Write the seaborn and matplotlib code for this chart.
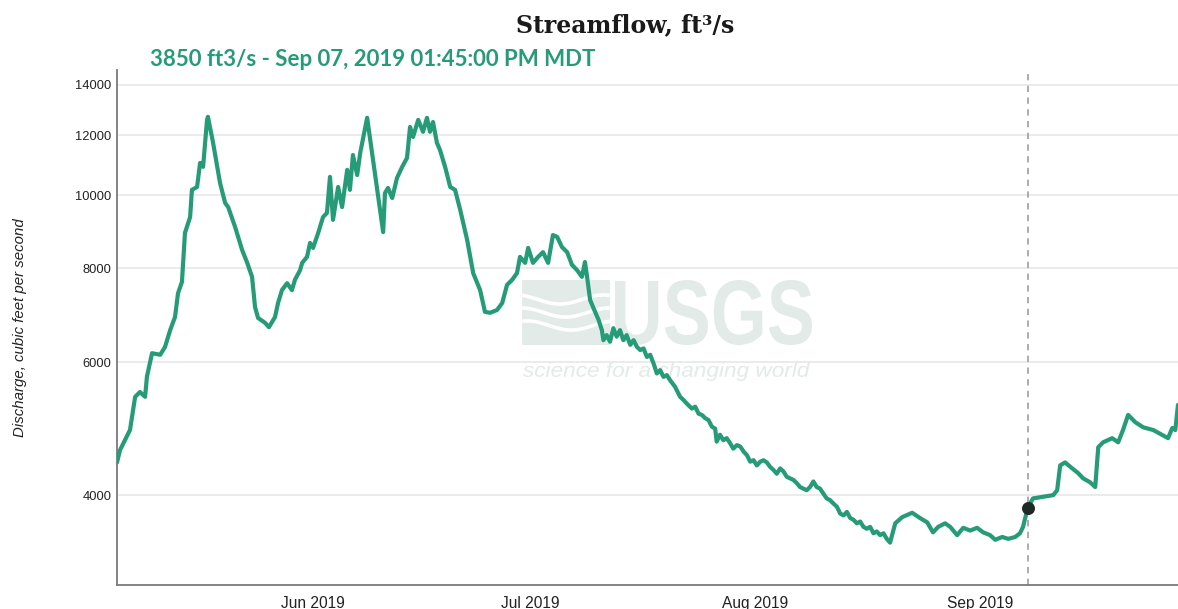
import matplotlib
matplotlib.use("Agg")
import matplotlib.pyplot as plt
from matplotlib.ticker import FixedLocator, FuncFormatter, NullLocator
from matplotlib.textpath import TextPath
from matplotlib.font_manager import FontProperties
from matplotlib.patches import PathPatch, Rectangle
from matplotlib.transforms import Affine2D
import numpy as np
import pandas as pd
import seaborn as sns

# Instantaneous discharge readings, 2019 (MDT), ft3/s
timestamps = [
    "05-04 23:00", "05-05 09:00", "05-06 18:00", "05-07 11:00", "05-08 03:00", "05-08 20:00",
    "05-09 02:00", "05-09 19:00", "05-10 22:00", "05-11 14:00", "05-12 07:00", "05-12 23:00",
    "05-13 09:00", "05-13 22:00", "05-14 08:00", "05-15 01:00", "05-15 07:00", "05-16 00:00",
    "05-16 10:00", "05-16 20:00", "05-17 09:00", "05-17 12:00", "05-18 05:00", "05-19 04:00",
    "05-19 21:00", "05-20 07:00", "05-21 06:00", "05-22 05:00", "05-22 22:00", "05-23 14:00",
    "05-24 00:00", "05-24 10:00", "05-25 09:00", "05-25 22:00", "05-26 18:00", "05-27 04:00",
    "05-27 17:00", "05-28 10:00", "05-29 02:00", "05-29 12:00", "05-30 05:00", "05-30 12:00",
    "05-31 04:00", "05-31 14:00", "06-01 00:00", "06-01 17:00", "06-02 09:00", "06-02 22:00",
    "06-03 08:00", "06-03 18:00", "06-04 11:00", "06-05 00:00", "06-05 17:00", "06-06 02:00",
    "06-06 12:00", "06-07 02:00", "06-07 12:00", "06-08 11:00", "06-10 16:00", "06-10 22:00",
    "06-11 08:00", "06-11 22:00", "06-12 14:00", "06-13 07:00", "06-13 23:00", "06-14 09:00",
    "06-14 19:00", "06-15 12:00", "06-16 04:00", "06-16 17:00", "06-17 03:00", "06-17 13:00",
    "06-18 02:00", "06-18 12:00", "06-19 05:00", "06-19 22:00", "06-20 14:00", "06-21 07:00",
    "06-22 06:00", "06-23 02:00", "06-24 01:00", "06-24 17:00", "06-25 10:00", "06-26 09:00",
    "06-27 02:00", "06-27 18:00", "06-28 11:00", "06-29 03:00", "06-29 13:00", "06-30 06:00",
    "06-30 16:00", "07-01 08:00", "07-02 01:00", "07-02 17:00", "07-03 10:00", "07-04 02:00",
    "07-04 16:00", "07-05 08:00", "07-06 01:00", "07-06 17:00", "07-07 10:00", "07-08 02:00",
    "07-08 12:00", "07-08 19:00", "07-09 05:00", "07-09 15:00", "07-10 09:00", "07-10 20:00",
    "07-11 01:00", "07-11 12:00", "07-11 23:00", "07-12 10:00", "07-12 21:00", "07-13 08:00",
    "07-13 19:00", "07-14 06:00", "07-14 18:00", "07-15 05:00", "07-15 16:00", "07-16 03:00",
    "07-16 14:00", "07-17 01:00", "07-17 12:00", "07-17 23:00", "07-18 10:00", "07-18 21:00",
    "07-19 08:00", "07-19 19:00", "07-20 06:00", "07-20 22:00", "07-21 15:00", "07-22 02:00",
    "07-22 13:00", "07-23 06:00", "07-23 17:00", "07-24 04:00", "07-24 15:00", "07-25 02:00",
    "07-25 13:00", "07-26 00:00", "07-26 11:00", "07-26 16:00", "07-27 03:00", "07-27 14:00",
    "07-28 01:00", "07-28 12:00", "07-28 23:00", "07-29 11:00", "07-29 22:00", "07-30 09:00",
    "07-30 20:00", "07-31 07:00", "07-31 18:00", "08-01 05:00", "08-01 16:00", "08-02 03:00",
    "08-02 14:00", "08-03 01:00", "08-03 12:00", "08-03 23:00", "08-04 10:00", "08-04 21:00",
    "08-05 08:00", "08-05 19:00", "08-06 06:00", "08-06 17:00", "08-07 04:00", "08-07 15:00",
    "08-08 02:00", "08-08 13:00", "08-09 00:00", "08-09 11:00", "08-09 22:00", "08-10 09:00",
    "08-10 20:00", "08-11 07:00", "08-11 18:00", "08-12 06:00", "08-12 17:00", "08-13 04:00",
    "08-13 15:00", "08-14 02:00", "08-14 13:00", "08-15 00:00", "08-15 11:00", "08-15 22:00",
    "08-16 09:00", "08-16 20:00", "08-17 07:00", "08-17 18:00", "08-18 05:00", "08-18 16:00",
    "08-19 03:00", "08-19 14:00", "08-20 07:00", "08-21 06:00", "08-22 15:00", "08-23 17:00",
    "08-24 17:00", "08-25 12:00", "08-26 05:00", "08-27 04:00", "08-27 21:00", "08-28 20:00",
    "08-29 16:00", "08-30 15:00", "08-31 14:00", "09-01 10:00", "09-02 09:00", "09-03 02:00",
    "09-04 01:00", "09-04 21:00", "09-05 20:00", "09-06 12:00", "09-06 22:00", "09-07 13:45",
    "09-08 07:00", "09-09 17:00", "09-11 02:00", "09-11 15:00", "09-12 01:00", "09-12 17:00",
    "09-13 17:00", "09-14 12:00", "09-15 05:00", "09-16 04:00", "09-16 21:00", "09-17 07:00",
    "09-17 23:00", "09-19 05:00", "09-20 01:00", "09-20 17:00", "09-21 10:00", "09-22 09:00",
    "09-23 12:00", "09-24 21:00", "09-26 06:00", "09-26 22:00", "09-27 12:00", "09-27 22:00",
    "09-28 07:00",
]
discharge = [
    4420, 4590, 4880, 5400, 5480, 5400,
    5740, 6170, 6140, 6290, 6620, 6890,
    7410, 7670, 8910, 9350, 10160, 10250,
    11030, 10900, 12580, 12700, 11730, 10380,
    9760, 9640, 9070, 8460, 8130, 7790,
    7100, 6870, 6770, 6680, 6890, 7190,
    7480, 7640, 7480, 7720, 7950, 8130,
    8280, 8640, 8510, 8910, 9350, 9470,
    10570, 9270, 10250, 9640, 10800, 10160,
    11300, 10630, 11370, 12660, 8930, 10060,
    10220, 9910, 10540, 10900, 11200, 12310,
    11940, 12580, 12130, 12660, 12130, 12500,
    11730, 11480, 10900, 10250, 10160, 9560,
    8720, 7880, 7480, 7000, 6980, 7040,
    7190, 7600, 7720, 7880, 8280, 8130,
    8510, 8130, 8280, 8400, 8130, 8850,
    8800, 8530, 8400, 8080, 7950, 7790,
    8150, 7790, 7260, 7100, 6830, 6620,
    6420, 6520, 6390, 6660, 6490, 6620,
    6420, 6520, 6330, 6420, 6290, 6230,
    6260, 6100, 6140, 5980, 5800, 5860,
    5740, 5770, 5680, 5570, 5400, 5350,
    5290, 5210, 5240, 5130, 5110, 5060,
    5030, 4930, 4900, 4710, 4810, 4730,
    4760, 4690, 4610, 4660, 4640, 4570,
    4520, 4430, 4450, 4380, 4430, 4450,
    4420, 4360, 4320, 4270, 4340, 4300,
    4230, 4210, 4190, 4150, 4100, 4080,
    4060, 4100, 4170, 4100, 4080, 4020,
    3960, 3940, 3900, 3860, 3780, 3760,
    3800, 3730, 3710, 3670, 3690, 3630,
    3610, 3630, 3560, 3580, 3540, 3560,
    3500, 3460, 3670, 3740, 3790, 3730,
    3680, 3570, 3630, 3670, 3630, 3540,
    3620, 3590, 3620, 3570, 3540, 3490,
    3520, 3500, 3520, 3560, 3630, 3850,
    3960, 3980, 4000, 4060, 4380, 4420,
    4340, 4280, 4210, 4160, 4100, 4630,
    4700, 4760, 4700, 4880, 5110, 5000,
    4920, 4880, 4800, 4760, 4910, 4880,
    5270,
]
assert len(timestamps) == len(discharge)

y_ticks = [4000, 6000, 8000, 10000, 12000, 14000]
month_ticks = ["2019-06-01", "2019-07-01", "2019-08-01", "2019-09-01"]
month_labels = ["Jun 2019", "Jul 2019", "Aug 2019", "Sep 2019"]
cursor_time = "2019-09-07 13:45"
cursor_value = 3850
title_text = "Streamflow, ft\u00b3/s"
readout_text = "3850 ft3/s - Sep 07, 2019 01:45:00 PM MDT"
y_label = "Discharge, cubic feet per second"

LINE_GREEN = "#259b77"
WATERMARK = "#e2ebe7"

df = pd.DataFrame({
    "time": pd.to_datetime(["2019-" + t for t in timestamps]),
    "discharge": discharge,
})

sns.set_style("white")
plt.rcParams["font.family"] = ["Liberation Sans", "DejaVu Sans"]

W, H = 1178, 609
fig = plt.figure(figsize=(W / 100, H / 100), dpi=100)
ax_left, ax_right, ax_top, ax_bottom = 117, 1178, 70, 585
ax = fig.add_axes([ax_left / W, 1 - ax_bottom / H,
                   (ax_right - ax_left) / W, (ax_bottom - ax_top) / H])


def frac(px, py):
    """Pixel position inside the plot area -> axes fraction."""
    return ((px - ax_left) / (ax_right - ax_left),
            (ax_bottom - py) / (ax_bottom - ax_top))


def squeezed_text(text, x0, y0, x1, y1, prop, color):
    tp = TextPath((0, 0), text, size=1, prop=prop)
    bb = tp.get_extents()
    (fx0, fy0), (fx1, fy1) = frac(x0, y1), frac(x1, y0)
    tr = (Affine2D().translate(-bb.x0, -bb.y0)
          .scale((fx1 - fx0) / bb.width, (fy1 - fy0) / bb.height)
          .translate(fx0, fy0))
    patch = PathPatch(tr.transform_path(tp), transform=ax.transAxes,
                      facecolor=color, edgecolor="none", zorder=0.5)
    ax.add_patch(patch)


# Watermark: wave emblem, wordmark and tagline
ex0, ey0 = frac(522, 345)
ex1, ey1 = frac(610, 280)
ax.add_patch(Rectangle((ex0, ey0), ex1 - ex0, ey1 - ey0, transform=ax.transAxes,
                       facecolor=WATERMARK, edgecolor="none", zorder=0.5))
wx = np.linspace(ex0, ex1, 80)
for k, base in enumerate([0.30, 0.50, 0.70]):
    wy = ey0 + (ey1 - ey0) * (base + 0.07 * np.sin((wx - ex0) / (ex1 - ex0) * 2 * np.pi + 1.2 + k * 0.4))
    ax.plot(wx, wy, transform=ax.transAxes, color="white", lw=2.6, zorder=0.6,
            solid_capstyle="butt")
squeezed_text("USGS", 615, 280, 812, 345,
              FontProperties(family="Liberation Sans", weight="bold"), WATERMARK)
squeezed_text("science for a changing world", 523, 362, 810, 381,
              FontProperties(family="Liberation Sans", style="italic"), WATERMARK)

sns.lineplot(data=df, x="time", y="discharge", ax=ax, color=LINE_GREEN,
             linewidth=3.0, zorder=3)

cursor_dt = pd.Timestamp(cursor_time)
ax.axvline(cursor_dt, color="#a6a6a6", lw=1.3, ls=(0, (3.5, 3)), zorder=2)
ax.scatter([cursor_dt], [cursor_value], s=70, color="#1f2a26", zorder=4,
           edgecolors="#1f2a26")

ax.set_yscale("log")
ax.set_ylim(3040, 14650)
ax.set_xlim(df["time"].min(), df["time"].max())
ax.yaxis.set_major_locator(FixedLocator(y_ticks))
ax.yaxis.set_major_formatter(FuncFormatter(lambda v, _: f"{int(round(v))}"))
ax.yaxis.set_minor_locator(NullLocator())
ax.set_xticks(pd.to_datetime(month_ticks))
ax.set_xticklabels(month_labels)
ax.xaxis.set_minor_locator(NullLocator())

ax.grid(axis="y", color="#e6e6e6", lw=1.1, zorder=0)
ax.grid(axis="x", visible=False)
for side in ("top", "right"):
    ax.spines[side].set_visible(False)
for side in ("left", "bottom"):
    ax.spines[side].set_color("#7a7a7a")
    ax.spines[side].set_linewidth(1.3)

ax.tick_params(axis="y", length=0, pad=4, labelsize=9.3, labelcolor="#222222")
ax.tick_params(axis="x", length=5, width=1, color="#7a7a7a", pad=3,
               labelsize=11.2, labelcolor="#222222")
ax.set_xlabel("")
ax.set_ylabel(y_label, fontsize=10.8, fontstyle="italic", color="#222222", labelpad=35)

fig.text(625 / W, 1 - 25 / H, title_text, ha="center", va="center",
         fontsize=17, fontweight="bold", family=["DejaVu Serif"], color="#1a1a1a")
fig.text(150 / W, 1 - 60 / H, readout_text, ha="left", va="center",
         fontsize=16, fontweight="bold", family=["Lato", "DejaVu Sans"], color=LINE_GREEN)

fig.savefig("out.png", dpi=100)
